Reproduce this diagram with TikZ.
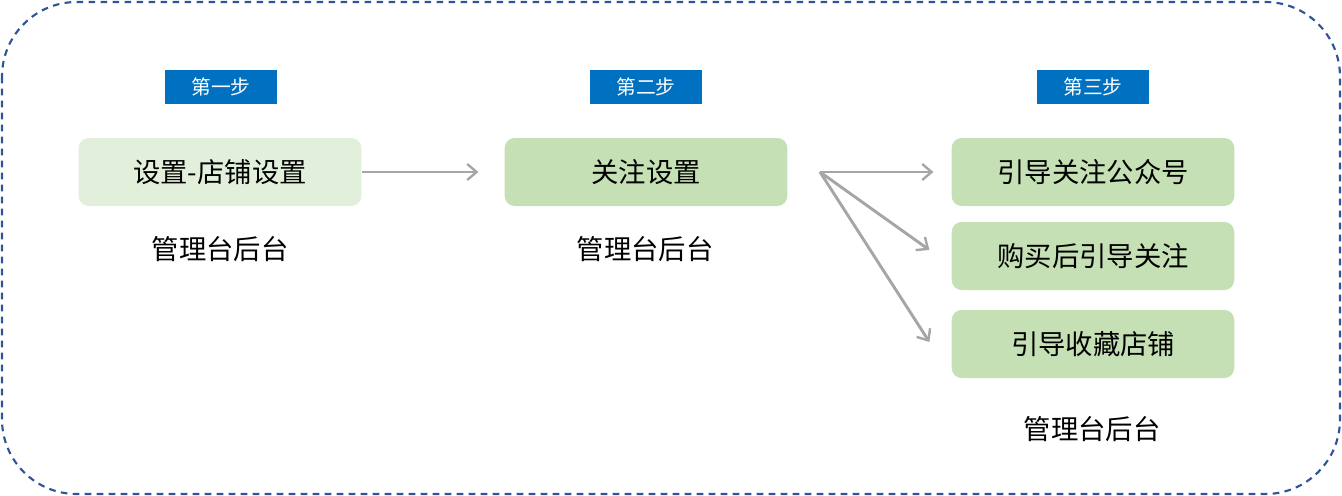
\documentclass[tikz,border=0pt]{standalone}
\usepackage{fontspec}
\setmainfont{Noto Sans CJK SC}
\usepackage{xcolor}
\usetikzlibrary{arrows.meta,positioning,calc}
\definecolor{framecol}{HTML}{2F5597}
\definecolor{stepblue}{HTML}{0070C0}
\definecolor{lightgreen}{HTML}{E2EFDA}
\definecolor{midgreen}{HTML}{C5E0B4}
\definecolor{arrowgray}{HTML}{A6A6A6}
\tikzset{
  steplabel/.style={fill=stepblue,text=white,font=\fontsize{14.8}{16}\selectfont,minimum width=84pt,minimum height=25.5pt,inner sep=0pt},
  taskbox/.style={fill=midgreen,rounded corners=7.5pt,font=\fontsize{20.5}{22}\selectfont,minimum width=212pt,minimum height=51pt,inner sep=0pt},
  sidetext/.style={font=\fontsize{20.5}{22}\selectfont,inner sep=0pt},
  flowarrow/.style={draw=arrowgray,line width=2.2pt,-{Straight Barb[length=7pt,width=12pt,line width=1.8pt]}}
}
\begin{document}
\begin{tikzpicture}[x=0.75pt,y=-0.75pt]
                \useasboundingbox (0,0) rectangle (1342,496);
                \draw[framecol,line width=1.6pt,dash pattern=on 5pt off 4pt,rounded corners=56pt] (2,2) rectangle (1340,494);
                % step labels
                \node[steplabel] (s1) at (221,87) {第一步};
                \node[steplabel] (s2) at (646,87) {第二步};
                \node[steplabel] (s3) at (1093,87) {第三步};
                % boxes
                \node[taskbox,fill=lightgreen] (shop) at (220,172) {设置-店铺设置};
                \node[taskbox] (follow) at (646,172) {关注设置};
                \node[taskbox] (guide) at (1093,172) {引导关注公众号};
                \node[taskbox] (buy) at (1093,256) {购买后引导关注};
                \node[taskbox] (fav) at (1093,344) {引导收藏店铺};
                % captions
                \node[sidetext] (c1) at (220,249) {管理台后台};
                \node[sidetext] (c2) at (645,249) {管理台后台};
                \node[sidetext] (c3) at (1092,429) {管理台后台};
                % arrows
                \coordinate (fan) at (820,172);
                \draw[flowarrow] (shop.east) -- ([xshift=-19.5pt]follow.west);
                \draw[flowarrow] (fan) -- ([xshift=-13.5pt]guide.west);
                \draw[flowarrow] (fan) -- ($(buy.west)+(-22,-6)$);
                \draw[flowarrow] (fan) -- ($(fav.west)+(-22,-2)$);
            \end{tikzpicture}
\end{document}
